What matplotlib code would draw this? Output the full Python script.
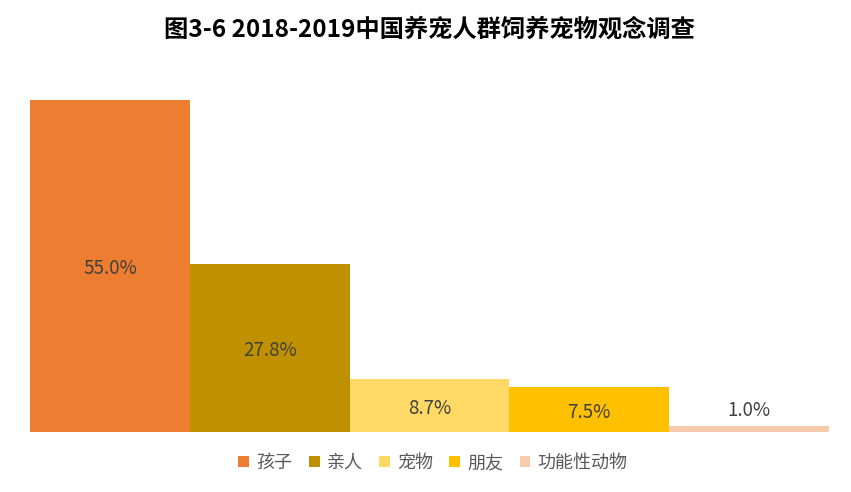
import matplotlib
matplotlib.use("Agg")
import matplotlib.pyplot as plt
from matplotlib.patches import Patch

plt.rcParams['font.family'] = ['Noto Sans CJK SC', 'DejaVu Sans']

categories = ["孩子", "亲人", "宠物", "朋友", "功能性动物"]
values = [55.0, 27.8, 8.7, 7.5, 1.0]
colors = ["#ED7D31", "#BF9000", "#FFD966", "#FFC000", "#F8CBAD"]
title = "图3-6 2018-2019中国养宠人群饲养宠物观念调查"

fig = plt.figure(figsize=(8.51, 4.92), dpi=100)
ax = fig.add_axes([30/851, 60/492, 799/851, 362.2/492])
ymax = 60
ax.set_ylim(0, ymax)
ax.set_xlim(-0.5, len(values) - 0.5)

for i, (c, v, col) in enumerate(zip(categories, values, colors)):
    ax.bar(i, v, width=1.0, color=col, label=c)
    if v >= 5:
        ax.annotate(f"{v:.1f}%", xy=(i, v / 2), xytext=(0, -2), textcoords='offset points',
                    ha='center', va='center', fontsize=13.5, color='#404040')
    else:
        ax.annotate(f"{v:.1f}%", xy=(i, v), xytext=(0, 11), textcoords='offset points',
                    ha='center', va='center', fontsize=13.5, color='#404040')

for s in ax.spines.values():
    s.set_visible(False)
ax.set_xticks([])
ax.set_yticks([])

handles = [Patch(facecolor=col, label=c) for c, col in zip(categories, colors)]
fig.legend(handles=handles, loc='center', bbox_to_anchor=(433/851, 1 - 463/492), ncol=5,
           frameon=False, fontsize=13, handlelength=0.6, handleheight=0.6,
           handletextpad=0.4, columnspacing=0.9, labelcolor='#595959')

fig.text(429/851, 1 - 30/492, title, ha='center', va='center', fontsize=17.5,
         fontweight='bold', color='black')

fig.savefig("out.png", dpi=100)
